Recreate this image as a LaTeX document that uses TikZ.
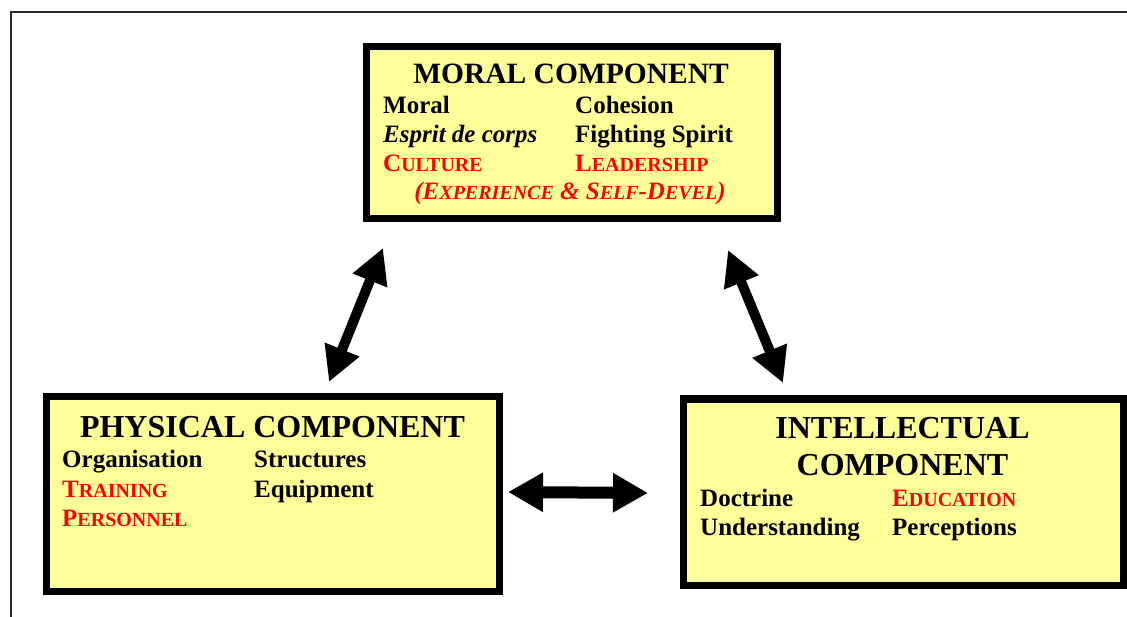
\documentclass[tikz,border=0pt]{standalone}
\usepackage{fontspec}
\setmainfont{Liberation Serif}
\usetikzlibrary{arrows.meta,positioning}
\definecolor{compyellow}{RGB}{255,255,153}
\newcommand\fsc[2]{#1{\fontsize{20}{20}\selectfont #2}}

\begin{document}
\begin{tikzpicture}[x=1pt, y=-1pt,
  compbox/.style={draw=black, line width=7pt, fill=compyellow, inner sep=0pt},
  title/.style={font=\fontsize{29.5}{29.5}\selectfont\bfseries, anchor=base, inner sep=0pt},
  bigtitle/.style={title, font=\fontsize{32}{32}\selectfont\bfseries},
  item/.style={font=\fontsize{25}{25}\selectfont\bfseries, anchor=base west, inner sep=0pt},
  hot/.style={item, text=red},
  dbl/.style={line width=10pt, {Triangle[length=35pt,width=35pt]}-{Triangle[length=35pt,width=35pt]}}]
\useasboundingbox (0,0) rectangle (1127,617);
%\draw [help lines, step=10pt](0,0) grid (1127,617);

% frame
\draw [line width=1.5pt, black!85] (1127,12) -- (11,12) -- (11,617);

% boxes
\node [compbox, minimum width=410.5pt, minimum height=172pt] (moral) at (571.75,133) {};
\node [compbox, minimum width=453.5pt, minimum height=194pt] (physical) at (272.75,494) {};
\node [compbox, minimum width=440.5pt, minimum height=186pt] (intel) at (903.25,492) {};

% moral component
\node [title] (mtitle) at (571,84) {MORAL COMPONENT};
\node [item] (moral1) at (383,114) {Moral};
\node [item] (moral2) at (575,114) {Cohesion};
\node [item] (moral3) at (383,143) {\itshape Esprit de corps};
\node [item] (moral4) at (575,143) {Fighting Spirit};
\node [hot] (moral5) at (383,172) {\fsc{C}{ULTURE}};
\node [hot] (moral6) at (575,172) {\fsc{L}{EADERSHIP}};
\node [hot, anchor=base, font=\fontsize{25}{25}\selectfont\bfseries\itshape] (moral7) at (570,200) {(\fsc{E}{XPERIENCE} \& \fsc{S}{ELF}-\fsc{D}{EVEL})};

% physical component
\node [bigtitle] (ptitle) at (272.5,437) {PHYSICAL COMPONENT};
\node [item] (phys1) at (62,467) {Organisation};
\node [item] (phys2) at (254,467) {Structures};
\node [hot] (phys3) at (62,497) {\fsc{T}{RAINING}};
\node [item] (phys4) at (254,497) {Equipment};
\node [hot] (phys5) at (62,526) {\fsc{P}{ERSONNEL}};

% intellectual component
\node [bigtitle] (ititle1) at (902.5,438) {INTELLECTUAL};
\node [bigtitle] (ititle2) at (902.5,475) {COMPONENT};
\node [item] (intel1) at (700,506) {Doctrine};
\node [hot] (intel2) at (892,506) {\fsc{E}{DUCATION}};
\node [item] (intel3) at (700,535) {Understanding};
\node [item] (intel4) at (892,535) {Perceptions};

% arrows
\coordinate (pm1) at (329,382);
\coordinate (pm2) at (383,248);
\coordinate (mi1) at (728,250);
\coordinate (mi2) at (783,383);
\coordinate (pi1) at (508,492);
\coordinate (pi2) at (648,493);
\draw [dbl] (pm1) -- (pm2);
\draw [dbl] (mi1) -- (mi2);
\draw [dbl, line width=12pt, {Triangle[length=35pt,width=37pt]}-{Triangle[length=35pt,width=37pt]}] (pi1) -- (pi2);

\end{tikzpicture}
\end{document}
